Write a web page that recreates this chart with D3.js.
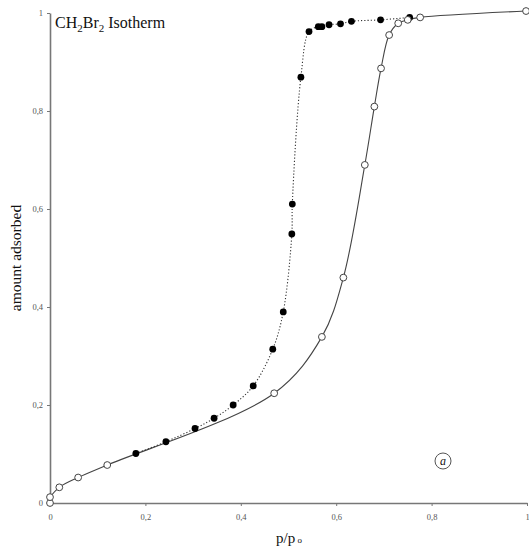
<!DOCTYPE html>
<html><head><meta charset="utf-8">
<script src="https://cdn.jsdelivr.net/npm/d3@7"></script>
<style>body{margin:0;background:#fff}svg{display:block}</style>
</head><body>
<svg id="c" width="529" height="553"></svg>
<script>
// Adsorption (open circles, solid line)
const adsX = [0, 0.0, 0.0195, 0.059, 0.12, 0.47, 0.57, 0.615, 0.66, 0.68, 0.694, 0.711, 0.73, 0.75, 0.776, 0.998];
const adsY = [0, 0.012, 0.032, 0.052, 0.0775, 0.224, 0.339, 0.46, 0.69, 0.809, 0.887, 0.955, 0.979, 0.986, 0.991, 1.004];
// Desorption (filled circles, dotted line)
const desX = [0.18, 0.243, 0.304, 0.344, 0.384, 0.426, 0.467, 0.489, 0.507, 0.508, 0.526, 0.543, 0.5625, 0.57, 0.585, 0.609, 0.632, 0.693, 0.754];
const desY = [0.101, 0.125, 0.152, 0.173, 0.2, 0.239, 0.314, 0.39, 0.549, 0.61, 0.869, 0.962, 0.972, 0.972, 0.976, 0.978, 0.983, 0.986, 0.991];
const xTicks = [0, 0.2, 0.4, 0.6, 0.8, 1];
const yTicks = [0, 0.2, 0.4, 0.6, 0.8, 1];
const fmt = d => String(d).replace('.', ',');

const svg = d3.select('#c');
const x = d3.scaleLinear().domain([0, 1]).range([50, 527]);
const y = d3.scaleLinear().domain([0, 1]).range([503, 13]);
const axisCol = '#777';

// axes
const gx = svg.append('g').attr('transform', 'translate(0,503)')
  .call(d3.axisBottom(x).tickValues(xTicks).tickFormat(fmt).tickSize(3).tickSizeOuter(0));
const gy = svg.append('g').attr('transform', 'translate(50,0)')
  .call(d3.axisLeft(y).tickValues(yTicks).tickFormat(fmt).tickSize(3).tickSizeOuter(0));
[gx, gy].forEach(g => {
  g.select('.domain').attr('stroke', axisCol).attr('stroke-width', 1.6);
  g.selectAll('.tick line').attr('stroke', axisCol);
  g.selectAll('.tick text').style('fill', '#555').style('font-family', '"Liberation Serif", serif').style('font-size', '8.5px');
});
gx.selectAll('.tick text').attr('dy', '1.3em');
gy.selectAll('.tick text').attr('x', -7);

const ads = adsX.map((v, i) => [v, adsY[i]]);
const des = desX.map((v, i) => [v, desY[i]]);

const line = d3.line().x(d => x(d[0])).y(d => y(d[1])).curve(d3.curveCatmullRom.alpha(0.5));

svg.append('path').datum(ads.slice(1)).attr('d', line)
  .attr('fill', 'none').attr('stroke', '#444').attr('stroke-width', 1.1);
svg.append('path').datum(des).attr('d', line)
  .attr('fill', 'none').attr('stroke', '#333').attr('stroke-width', 1.1).attr('stroke-dasharray', '1.2,2');

svg.append('g').selectAll('circle').data(des).join('circle')
  .attr('cx', d => x(d[0])).attr('cy', d => y(d[1])).attr('r', 3.4).attr('fill', '#000');
svg.append('g').selectAll('circle').data(ads).join('circle')
  .attr('cx', d => x(d[0])).attr('cy', d => y(d[1])).attr('r', 3.4)
  .attr('fill', '#fff').attr('stroke', '#444').attr('stroke-width', 1);

// title
const t = svg.append('text').attr('x', 55).attr('y', 28)
  .style('font-family', '"Liberation Serif", serif').style('font-size', '16px').attr('fill', '#111');
t.append('tspan').text('CH');
t.append('tspan').text('2').attr('dy', 4).style('font-size', '11px');
t.append('tspan').text('Br').attr('dy', -4);
t.append('tspan').text('2').attr('dy', 4).style('font-size', '11px');
t.append('tspan').text(' Isotherm').attr('dy', -4);

// axis labels
svg.append('text').attr('transform', 'translate(21,258) rotate(-90)').attr('text-anchor', 'middle')
  .style('font-family', '"Liberation Serif", serif').style('font-size', '15.5px').attr('fill', '#111')
  .text('amount adsorbed');
const xl = svg.append('text').attr('x', 276).attr('y', 543)
  .style('font-family', '"Liberation Serif", serif').style('font-size', '15px').attr('fill', '#111');
xl.append('tspan').text('p/p');
xl.append('tspan').text(' o').style('font-size', '9px');

// annotation
svg.append('circle').attr('cx', 443).attr('cy', 461).attr('r', 8).attr('fill', 'none').attr('stroke', '#555').attr('stroke-width', 1);
svg.append('text').attr('x', 443).attr('y', 465).attr('text-anchor', 'middle')
  .style('font-family', '"Liberation Serif", serif').style('font-size', '12px').style('font-style', 'italic').attr('fill', '#111').text('a');
</script>
</body></html>
